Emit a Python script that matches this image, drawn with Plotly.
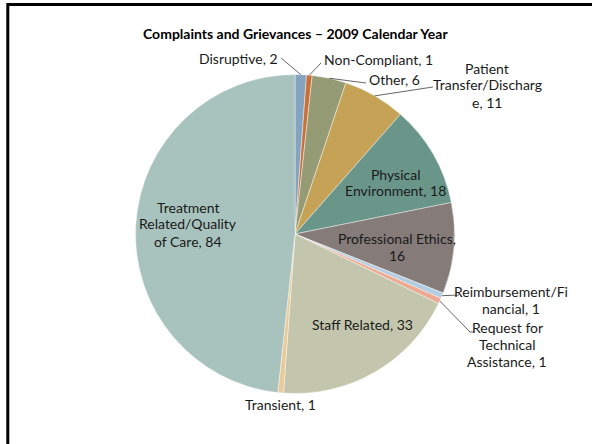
import math
import plotly.graph_objects as go

# ---- data ----
categories = ["Disruptive", "Non-Compliant", "Other", "Patient Transfer/Discharge",
              "Physical Environment", "Professional Ethics", "Reimbursement/Financial",
              "Request for Technical Assistance", "Staff Related", "Transient",
              "Treatment Related/Quality of Care"]
values = [2, 1, 6, 11, 18, 16, 1, 1, 33, 1, 84]
display_labels = ["Disruptive, 2", "Non-Compliant, 1", "Other, 6",
                  "Patient<br>Transfer/Discharg<br>e, 11",
                  "Physical<br>Environment, 18", "Professional Ethics,<br>16",
                  "Reimbursement/Fi<br>nancial, 1",
                  "Request for<br>Technical<br>Assistance, 1",
                  "Staff Related, 33", "Transient, 1",
                  "Treatment<br>Related/Quality<br>of Care, 84"]
title_text = "Complaints and Grievances \u2013 2009 Calendar Year"

# ---- styles / layout ----
colors = ["#83A3BF", "#C8703A", "#959B75", "#C6A256", "#6A968A", "#857B79",
          "#B3CDE2", "#EDAA92", "#C3C6AD", "#E9CA98", "#A8C3BD"]
W, H = 592, 444
CX, CY, R = 295, 234, 159.5
FONT = "Lato"
FS = 14
LINE_H = 17

# label anchor positions (pixels): x, y (block centre), xanchor
label_pos = [
    (280, 58, "right"), (322, 60, "left"), (367, 80, "left"), (487, 85, "center"),
    (395, 182.5, "center"), (397, 247, "center"), (511, 300, "center"),
    (507, 344, "center"), (362, 324, "center"), (280, 404, "center"),
    (188, 224, "center"),
]
# leader line tail points (pixels); None = no leader
leader_tail = [
    [(281, 58)], [(321, 63)], [(366, 83)], [(433, 87)], None, None,
    [(459, 295)], [(470, 332), (474, 332)], None, None, None,
]


def px(x):
    return x / W


def py(y):
    return 1 - y / H


fig = go.Figure(go.Pie(
    labels=categories, values=values, sort=False, direction="clockwise",
    rotation=0, textinfo="none", hoverinfo="label+value",
    marker=dict(colors=colors, line=dict(color="rgba(255,255,255,0.7)", width=0.6)),
    domain=dict(x=[px(CX - R), px(CX + R)], y=[py(CY + R), py(CY - R)]),
    showlegend=False,
))

total = sum(values)
annotations = []
shapes = []
cum = 0
for i, v in enumerate(values):
    mid = (cum + v / 2) / total
    cum += v
    theta = 2 * math.pi * mid
    hx = CX + R * math.sin(theta)
    hy = CY - R * math.cos(theta)
    lx, ly, xa = label_pos[i]
    lines = display_labels[i].split("<br>")
    n = len(lines)
    for k, line in enumerate(lines):
        yy = ly + (k - (n - 1) / 2) * LINE_H
        annotations.append(dict(
            text=line, x=px(lx), y=py(yy), xref="paper", yref="paper",
            xanchor=xa, yanchor="middle", showarrow=False, align="center",
            font=dict(family=FONT, size=FS, color="#1a1a1a"),
        ))
    if leader_tail[i]:
        pts = [(hx, hy)] + leader_tail[i]
        path = "M " + " L ".join(f"{px(a):.5f},{py(b):.5f}" for a, b in pts)
        shapes.append(dict(type="path", path=path, xref="paper", yref="paper",
                           line=dict(color="#555555", width=0.9)))

annotations.append(dict(
    text="<b>" + title_text + "</b>", x=px(295), y=py(33), xref="paper", yref="paper",
    xanchor="center", yanchor="middle", showarrow=False,
    font=dict(family=FONT, size=FS, color="#000000"),
))

# white strip at the right edge (empty in the reference)
shapes.append(dict(type="rect", xref="paper", yref="paper", x0=px(580), x1=1.0,
                   y0=0, y1=py(6.5), fillcolor="white", line=dict(width=0),
                   layer="above"))
# slide frame (top and left edges)
shapes.append(dict(type="line", xref="paper", yref="paper", x0=px(7), x1=1.0,
                   y0=py(4.5), y1=py(4.5), line=dict(color="#000000", width=3)))
shapes.append(dict(type="line", xref="paper", yref="paper", x0=px(7.8), x1=px(7.8),
                   y0=py(3), y1=0, line=dict(color="#000000", width=3)))

fig.update_layout(
    width=W, height=H, margin=dict(l=0, r=0, t=0, b=0),
    paper_bgcolor="white", plot_bgcolor="white",
    annotations=annotations, shapes=shapes,
)

fig.write_html(
    "out.html",
    config={"displayModeBar": False},
    post_script=("document.body.style.margin='0';"
                 "document.body.style.overflow='hidden';"
                 "document.documentElement.style.overflow='hidden';"),
)
